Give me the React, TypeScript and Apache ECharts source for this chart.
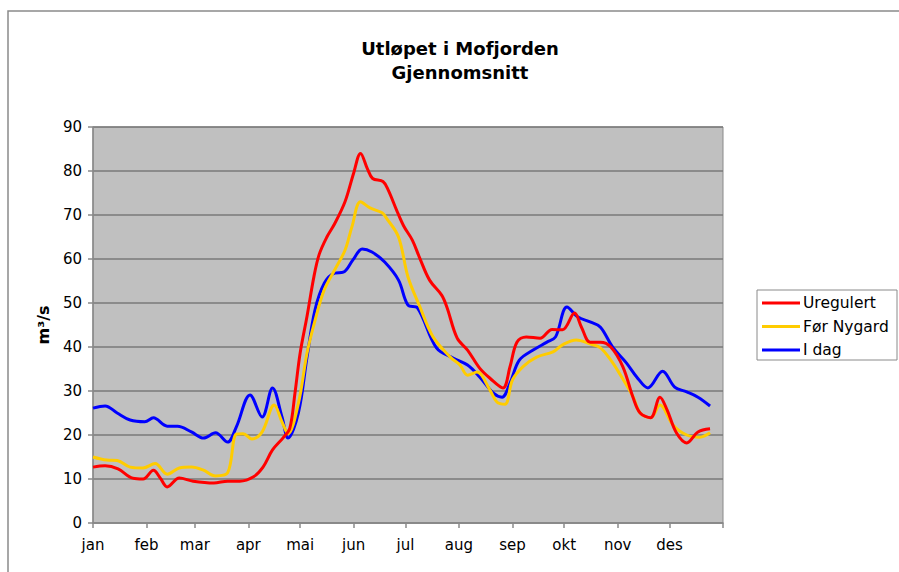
import React, { useEffect, useRef } from "react";
import * as echarts from "echarts";

const monthLabels = ["jan", "feb", "mar", "apr", "mai", "jun", "jul", "aug", "sep", "okt", "nov", "des"];
const monthStarts = [0, 31, 59, 90, 120, 151, 181, 212, 243, 273, 304, 334];
const monthTicks = [0, 31, 59, 90, 120, 151, 181, 212, 243, 273, 304, 334, 365];
const yTicks = [0, 10, 20, 30, 40, 50, 60, 70, 80, 90];

const seriesNames = ["Uregulert", "Før Nygard", "I dag"];

const redDays = [0, 7, 14.5, 23, 29, 35, 39, 43, 50, 58, 70, 78, 85, 93, 98.5, 104, 110, 114, 117, 120, 124, 128, 131, 135.5, 140, 146, 151, 155, 159, 162, 168, 171, 176, 180, 185, 189, 195, 202, 205, 211, 217, 224, 230, 237.5, 241.6, 245.6, 251, 259, 266, 272, 279, 283, 288, 294, 300, 307, 313, 317, 323, 328.5, 332.6, 338, 344, 350.5, 357.5];
const redValues = [12.7, 13.0, 12.3, 10.2, 10.0, 12.0, 10.2, 8.2, 10.2, 9.5, 9.1, 9.5, 9.5, 10.5, 12.7, 16.6, 19.3, 21.5, 29.5, 38.6, 47, 56, 61, 65, 68, 73, 79.5, 84, 80.5, 78.3, 77.6, 75.7, 71, 67.5, 64.3, 60.5, 55.2, 51.8, 49.1, 42, 39.3, 35.2, 32.9, 30.7, 35.5, 41.1, 42.3, 42, 44, 43.9, 47.7, 44.5, 41.1, 41.1, 40, 35.5, 28.4, 25, 23.9, 28.6, 25.7, 20.5, 18.2, 20.7, 21.4];

const yellowDays = [0, 8, 14, 21.5, 29, 36, 43, 50, 57, 64, 71, 78, 83, 87, 92, 98, 105, 109.5, 113, 119, 124, 128.6, 134, 140, 146, 150, 155, 160.5, 167.5, 170, 177, 182.5, 189, 197, 207, 212.6, 217, 222.5, 230, 234, 238.7, 243, 249, 257, 266.5, 272, 280, 288, 294, 300, 305, 313, 317, 323, 328.5, 336, 344, 351.6, 357.5];
const yellowValues = [15, 14.3, 14.2, 12.7, 12.5, 13.5, 11.1, 12.5, 12.7, 12, 10.7, 11.4, 20.2, 20.3, 19.1, 20.7, 26.8, 23, 20.3, 27.2, 38.6, 46, 53, 57.5, 62, 67.3, 73, 71.6, 70.5, 69.3, 65, 55.9, 49.5, 42.3, 37.7, 35.9, 33.6, 34.3, 30.2, 27.5, 27, 32.5, 35.5, 37.7, 38.9, 40.5, 41.6, 40.7, 39.8, 37, 34, 28.6, 25, 23.9, 26.8, 22.3, 20, 19.5, 20.5];

const blueDays = [0, 7, 14, 21.5, 30, 35, 43, 49, 57, 64, 71, 78, 83, 91, 98, 104, 109.5, 113, 119, 124, 128.6, 134, 140, 145, 150.6, 156, 161.6, 169, 177, 182.5, 188, 199, 208.6, 217, 224, 232, 237, 241.6, 247, 255, 263, 268, 274.6, 281, 288, 294, 301, 309, 315, 321.5, 330, 337, 344, 350.5, 357.5];
const blueValues = [26.1, 26.6, 25, 23.4, 23, 23.9, 22, 22, 20.7, 19.3, 20.5, 18.4, 21.8, 29.1, 24.1, 30.7, 24.1, 19.3, 25, 37.7, 48.4, 54.5, 56.8, 57, 59.8, 62.3, 61.6, 59.3, 55.2, 49.5, 48.9, 39.8, 37.5, 35.9, 33.2, 29.5, 28.6, 31.8, 37, 39.3, 41.1, 42.3, 49.1, 46.8, 45.7, 44.5, 40, 36.4, 33.2, 30.7, 34.5, 30.9, 29.8, 28.6, 26.6];

const seriesColors = ["#ff0000", "#ffcc00", "#0000ff"];

const zip = (d: number[], v: number[]) => d.map((x, i) => [x, v[i]]);

const FONT = "DejaVu Sans";

export default function App() {
  const ref = useRef<HTMLDivElement>(null);
  useEffect(() => {
    if (!ref.current) return;
    const chart = echarts.init(ref.current, null, { renderer: "svg" });
    const datasets = [zip(redDays, redValues), zip(yellowDays, yellowValues), zip(blueDays, blueValues)];
    chart.setOption({
      animation: false,
      backgroundColor: "#ffffff",
      title: {
        text: "Utløpet i Mofjorden\nGjennomsnitt",
        left: 455,
        top: 31,
        textAlign: "center",
        textStyle: { fontFamily: FONT, fontSize: 18, fontWeight: "bold", color: "#000", lineHeight: 24 },
      },
      graphic: [
        {
          type: "rect",
          shape: { x: 8, y: 11, width: 1000, height: 1000 },
          style: { fill: "none", stroke: "#8a8a8a", lineWidth: 1.5 },
          silent: true,
        },
      ],
      legend: {
        orient: "vertical",
        left: 757,
        top: 290,
        padding: [5, 2, 2, 5],
        itemGap: 7.5,
        itemWidth: 38,
        itemHeight: 3,
        icon: "rect",
        backgroundColor: "#ffffff",
        borderColor: "#8a8a8a",
        borderWidth: 1,
        borderRadius: 0,
        textStyle: { fontFamily: FONT, fontSize: 15.5, color: "#000", lineHeight: 16, width: 92, padding: [0, 0, 0, -2] },
        data: seriesNames,
      },
      grid: {
        left: 93,
        right: 176,
        top: 127,
        bottom: 49,
        show: true,
        backgroundColor: "#c0c0c0",
        borderColor: "#8a8a8a",
        borderWidth: 1,
      },
      xAxis: {
        type: "value",
        min: 0,
        max: 365,
        axisLine: { show: true, lineStyle: { color: "#8a8a8a", width: 1.5 } },
        axisTick: { show: true, length: 5, lineStyle: { color: "#8a8a8a", width: 1.5 }, customValues: monthTicks },
        splitLine: { show: false },
        axisLabel: {
          customValues: monthStarts,
          margin: 14,
          fontFamily: FONT,
          fontSize: 15,
          color: "#000",
          formatter: (v: number) => monthLabels[monthStarts.indexOf(Math.round(v))] ?? "",
        },
      },
      yAxis: {
        type: "value",
        min: 0,
        max: 90,
        interval: 10,
        name: "m³/s",
        nameLocation: "middle",
        nameGap: 42,
        nameTextStyle: { fontFamily: FONT, fontSize: 16, fontWeight: "bold", color: "#000" },
        axisLine: { show: true, lineStyle: { color: "#8a8a8a", width: 1.5 } },
        axisTick: { show: true, length: 5, lineStyle: { color: "#8a8a8a", width: 1.5 } },
        splitLine: { show: true, lineStyle: { color: "#7a7a7a", width: 1.5 } },
        axisLabel: {
          margin: 11,
          fontFamily: FONT,
          fontSize: 15,
          color: "#000",
          formatter: (v: number) => (yTicks.includes(v) ? String(v) : ""),
        },
      },
      series: seriesNames.map((name, i) => ({
        name,
        type: "line",
        data: datasets[i],
        smooth: 0.35,
        showSymbol: false,
        symbol: "none",
        color: seriesColors[i],
        lineStyle: { color: seriesColors[i], width: 3 },
        z: 10 - i,
      })),
    });
    return () => chart.dispose();
  }, []);
  return <div ref={ref} style={{ position: "fixed", left: 0, top: 0, width: 899, height: 572 }} />;
}
